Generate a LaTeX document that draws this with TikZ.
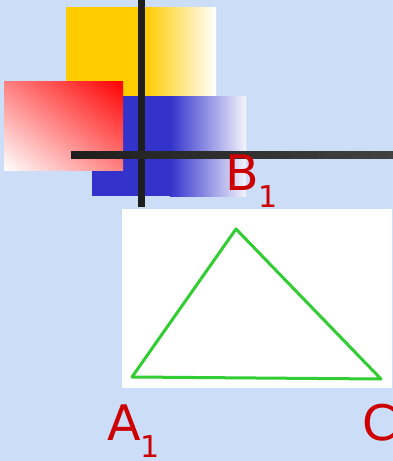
\documentclass[tikz,border=0pt]{standalone}
\usepackage{fontspec}
\setmainfont{DejaVu Sans}
\usepackage{xcolor}
\usepackage{tikz}
\usetikzlibrary{shadings}
\definecolor{bgblue}{RGB}{204,221,247}
\definecolor{sqyellow}{RGB}{255,204,0}
\definecolor{sqblue}{RGB}{51,51,204}
\definecolor{sqbluefade}{RGB}{244,244,252}
\definecolor{sqred}{RGB}{255,0,0}
\definecolor{sqpink}{RGB}{255,128,128}
\definecolor{axisdark}{RGB}{30,30,30}
\definecolor{axisgrey}{RGB}{66,66,66}
\definecolor{trigreen}{RGB}{50,205,50}
\definecolor{labred}{RGB}{204,0,0}
\tikzset{
  axisbar/.style   = {fill=axisdark},
  trisides/.style  = {draw=trigreen, line width=3pt, line join=round},
  vertexlab/.style = {text=labred, inner sep=0pt, anchor=base west,
                      font=\fontsize{49}{50}\selectfont},
}
\newcommand{\subone}{\raisebox{-17pt}{\fontsize{30}{30}\selectfont 1}}

\begin{document}
\begin{tikzpicture}[x=1pt, y=-1pt]
  \useasboundingbox (0,0) rectangle (393,461);
  \fill[bgblue] (0,0) rectangle (393,461);
  % yellow square
  \fill[sqyellow] (66,7) rectangle (145,96);
  \shade[left color=sqyellow, right color=white] (145,7) rectangle (216,96);
  % blue square
  \fill[sqblue] (92,96) rectangle (170,196);
  \shade[left color=sqblue, right color=sqbluefade] (170,96) rectangle (246,196);
  % red square
  \shade[upper right=sqred, lower left=white, upper left=sqpink, lower right=sqpink]
    (4,81) rectangle (123,170);
  % the two bars
  \fill[axisbar] (138,0) rectangle (145,207);
  \shade[left color=axisdark, right color=axisgrey] (71,151) rectangle (393,158);
  \node[vertexlab] (b1) at (225,190) {B\subone};
  % triangle picture
  \fill[white] (122,209) rectangle (392,388);
  \coordinate (ta) at (132,377);
  \coordinate (tb) at (236,229);
  \coordinate (tc) at (381,379);
  \draw[trisides] (ta) -- (tb) -- (tc) -- cycle;
  \node[vertexlab] (a1) at (107,440) {A\subone};
  \node[vertexlab] (c) at (362,440) {C};
\end{tikzpicture}
\end{document}
